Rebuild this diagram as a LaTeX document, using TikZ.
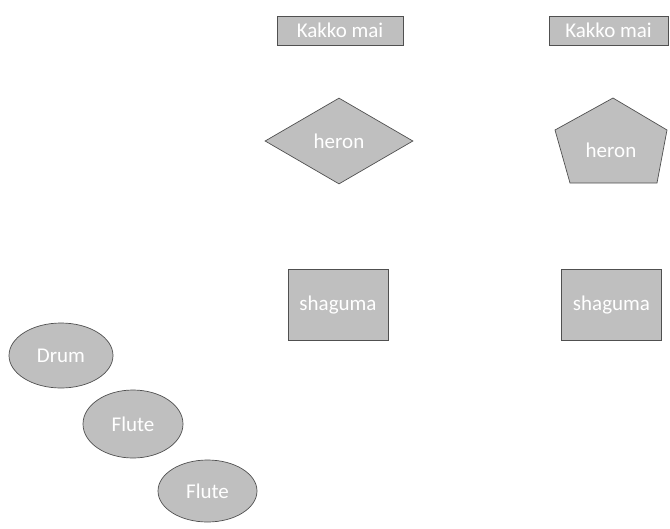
\documentclass[tikz,border=0pt]{standalone}
\usepackage{fontspec}
\setmainfont{Carlito}
\usetikzlibrary{shapes.geometric}
\definecolor{shapefill}{RGB}{191,191,191}
\definecolor{shapeline}{RGB}{80,80,80}
\tikzset{
  base/.style={fill=shapefill, draw=shapeline, line width=0.7pt, text=white, font=\fontsize{21}{24}\selectfont, inner sep=0pt},
  labelbox/.style={base, rectangle, minimum width=#1, minimum height=29pt},
  sqbox/.style={base, rectangle, minimum width=100pt, minimum height=71pt},
  oval/.style={base, ellipse, minimum width=#1},
  txt/.style={text=white, font=\fontsize{21}{24}\selectfont, inner sep=0pt}
}
\begin{document}
\begin{tikzpicture}[x=1pt,y=-1pt]
\useasboundingbox (0,0) rectangle (670,528);
\node[labelbox=126pt] (k1) at (340,30.5) {Kakko mai};
\node[labelbox=119pt] (k2) at (608.5,30.5) {Kakko mai};
\node[base, diamond, minimum width=148pt, minimum height=86pt, aspect=1.72] (h1) at (339,141) {heron};
\draw[base] (613,98) -- (667,130) -- (657,183) -- (570,183) -- (555,130) -- cycle;
\node[txt] (h2) at (611,150) {heron};
\node[sqbox] (s1) at (338,305) {shaguma};
\node[sqbox] (s2) at (611.5,305) {shaguma};
\node[oval=104pt, minimum height=65pt] (d) at (61,355.5) {Drum};
\node[oval=100pt, minimum height=68pt] (f1) at (133,424) {Flute};
\node[oval=99pt, minimum height=62pt] (f2) at (207.5,491) {Flute};
\end{tikzpicture}
\end{document}
